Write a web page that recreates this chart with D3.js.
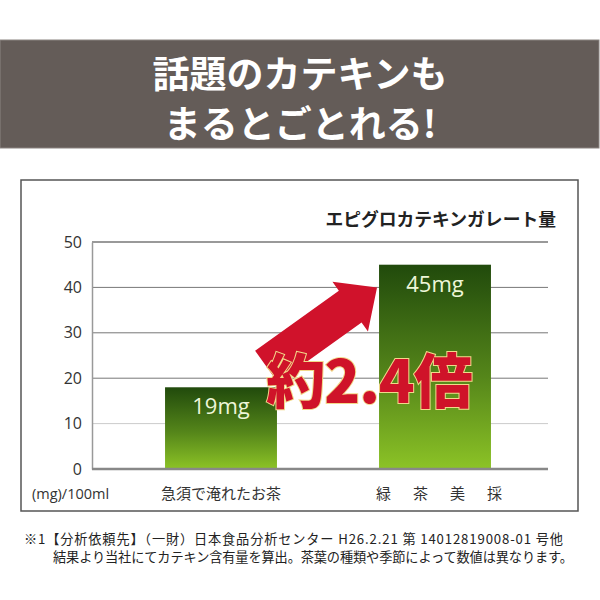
<!DOCTYPE html>
<html><head><meta charset="utf-8">
<script src="https://cdn.jsdelivr.net/npm/d3@7"></script>
<style>
html,body{margin:0;padding:0;background:#fff;}
svg{display:block;}
</style></head>
<body>
<script>
const headlineLines = ["話題のカテキンも", "まるとごとれる!"];
const chartTitle = "エピグロカテキンガレート量";
const categories = ["急須で淹れたお茶", "緑茶美採"];
const values = [18, 45];
const valueLabels = ["19mg", "45mg"];
const yTicks = [0, 10, 20, 30, 40, 50];
const unitLabel = "(mg)/100ml";
const ratioLabel = "約2.4倍";
const footnotes = [
  "※1【分析依頼先】（一財）日本食品分析センター H26.2.21 第 14012819008-01 号他",
  "結果より当社にてカテキン含有量を算出。茶葉の種類や季節によって数値は異なります。"
];

const W = 600, H = 600;
const JP = "'Noto Sans CJK JP', 'Noto Sans', sans-serif";
const LAT = "'Open Sans', 'Noto Sans', sans-serif";

const svg = d3.select("body").append("svg").attr("width", W).attr("height", H);
const defs = svg.append("defs");
const grad = defs.append("linearGradient").attr("id", "barGrad")
  .attr("x1", 0).attr("y1", 0).attr("x2", 0).attr("y2", 1);
grad.append("stop").attr("offset", "0%").attr("stop-color", "#214a0c");
grad.append("stop").attr("offset", "55%").attr("stop-color", "#55861a");
grad.append("stop").attr("offset", "100%").attr("stop-color", "#8cc326");

// header band
svg.append("rect").attr("x", 0).attr("y", 40).attr("width", 599).attr("height", 108)
  .attr("fill", "#645c58").attr("stroke", "#8a8380").attr("stroke-width", 1);
svg.selectAll("text.head").data(headlineLines).join("text")
  .attr("class", "head")
  .attr("x", 300).attr("y", (d, i) => 72 + i * 50)
  .attr("text-anchor", "middle").attr("dominant-baseline", "central")
  .attr("fill", "#fff").attr("font-family", JP).attr("font-weight", 700)
  .attr("font-size", 37).text(d => d);

// chart box
svg.append("rect").attr("x", 21).attr("y", 180).attr("width", 557).attr("height", 331)
  .attr("fill", "none").attr("stroke", "#555").attr("stroke-width", 1.5);

const y = d3.scaleLinear().domain([0, 50]).range([469, 242]);
const x = d3.scaleBand().domain(categories).range([114, 542]).paddingInner(0.477).paddingOuter(0.2385);
const plotL = 92, plotR = 548;

// gridlines
const gridColor = v => v === 50 ? "#999" : (v === 10 ? "#ccc" : "#777");
svg.append("g").selectAll("line").data(yTicks.filter(v => v > 0)).join("line")
  .attr("x1", plotL).attr("x2", plotR)
  .attr("y1", d => y(d)).attr("y2", d => y(d))
  .attr("stroke", gridColor).attr("stroke-width", d => d === 50 ? 2 : 1);

// y axis via d3.axisLeft for labels
const yAxis = svg.append("g").attr("transform", `translate(${plotL},0)`)
  .call(d3.axisLeft(y).tickValues(yTicks).tickSize(0).tickPadding(10));
yAxis.select(".domain").attr("stroke", "#999").attr("stroke-width", 1.5);
yAxis.selectAll("text").attr("font-family", LAT).attr("font-size", 16).attr("fill", "#333");

// bars
svg.append("g").selectAll("rect").data(values).join("rect")
  .attr("x", (d, i) => x(categories[i])).attr("width", x.bandwidth())
  .attr("y", d => y(d)).attr("height", d => y(0) - y(d))
  .attr("fill", "url(#barGrad)");

// baseline
svg.append("line").attr("x1", plotL).attr("x2", plotR).attr("y1", y(0)).attr("y2", y(0))
  .attr("stroke", "#888").attr("stroke-width", 2.5);

// value labels
svg.append("g").selectAll("text").data(values).join("text")
  .attr("x", (d, i) => x(categories[i]) + x.bandwidth() / 2)
  .attr("y", d => y(d) + 27)
  .attr("text-anchor", "middle")
  .attr("font-family", LAT).attr("font-size", 22).attr("fill", "#eef6d8")
  .text((d, i) => valueLabels[i]);

// x category labels
const xl = svg.append("g");
xl.append("text").attr("x", x(categories[0]) + x.bandwidth() / 2).attr("y", 492)
  .attr("text-anchor", "middle").attr("dominant-baseline", "central")
  .attr("font-family", JP).attr("font-size", 15).attr("fill", "#333").text(categories[0]);
xl.append("text").attr("x", x(categories[1]) + x.bandwidth() / 2 + 4 + 11).attr("y", 492)
  .attr("text-anchor", "middle").attr("dominant-baseline", "central")
  .attr("letter-spacing", 22)
  .attr("font-family", JP).attr("font-size", 15).attr("fill", "#333").text(categories[1]);
xl.append("text").attr("x", 32).attr("y", 493).attr("dominant-baseline", "central")
  .attr("font-family", LAT).attr("font-size", 14.5).attr("fill", "#333").text(unitLabel);

// chart title
svg.append("text").attr("x", 556).attr("y", 218).attr("text-anchor", "end")
  .attr("dominant-baseline", "central")
  .attr("font-family", JP).attr("font-weight", 700).attr("font-size", 17.8)
  .attr("fill", "#222").text(chartTitle);

// arrow (annotation) anchored to bar scales
const tipX = x(categories[1]) - 2, tipY = y(40);
svg.append("polygon")
  .attr("points", [[0,0],[-33,-30.5],[-33,-19.5],[-136,-19.5],[-136,19.5],[-33,19.5],[-33,30.5]].map(p => p.join(",")).join(" "))
  .attr("transform", `translate(${tipX},${tipY}) rotate(-35.6)`)
  .attr("fill", "#d0122b");

// ratio text
svg.append("text").attr("x", 369).attr("y", 403).attr("text-anchor", "middle")
  .attr("font-family", JP).attr("font-weight", 900).attr("font-size", 59)
  .attr("fill", "#cf1329").attr("stroke", "#f2d98a").attr("stroke-width", 2)
  .attr("paint-order", "stroke").attr("letter-spacing", -1)
  .text(ratioLabel);

// footnotes
svg.append("g").selectAll("text").data(footnotes).join("text")
  .attr("x", (d, i) => i === 0 ? 24 : 53).attr("y", (d, i) => 538 + i * 18.5)
  .attr("dominant-baseline", "central")
  .attr("textLength", (d, i) => i === 0 ? 539 : 520)
  .attr("lengthAdjust", "spacing")
  .attr("font-family", JP).attr("font-size", 13.2).attr("fill", "#222")
  .text(d => d);
</script>
</body></html>
